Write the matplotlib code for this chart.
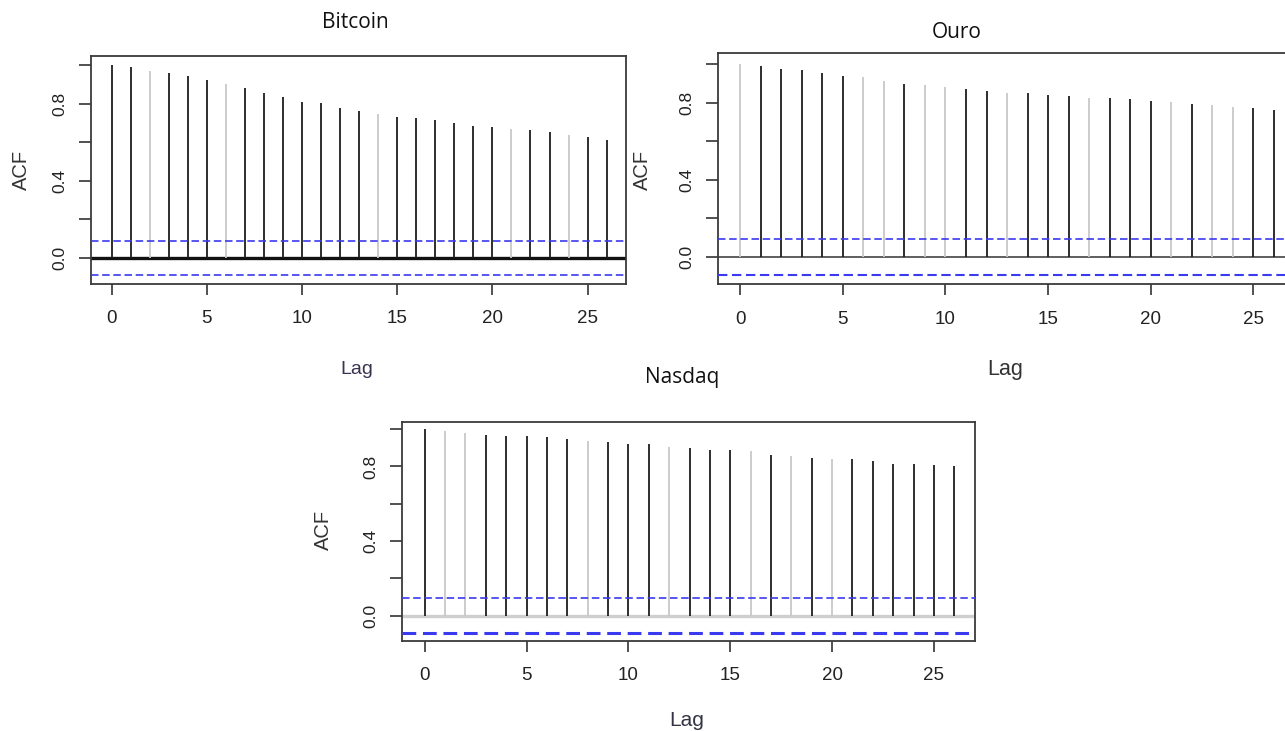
import matplotlib
matplotlib.use("Agg")
import matplotlib.pyplot as plt

lags = list(range(27))
bitcoin_acf = [1.0, 0.99, 0.97, 0.959, 0.944, 0.923, 0.906, 0.881, 0.859, 0.835,
               0.812, 0.803, 0.779, 0.764, 0.746, 0.732, 0.726, 0.715, 0.701, 0.686,
               0.679, 0.670, 0.663, 0.653, 0.637, 0.630, 0.613]
ouro_acf = [1.0, 0.99, 0.975, 0.968, 0.953, 0.937, 0.934, 0.915, 0.897, 0.894,
            0.88, 0.873, 0.859, 0.852, 0.852, 0.842, 0.833, 0.826, 0.825, 0.819,
            0.811, 0.804, 0.793, 0.787, 0.778, 0.771, 0.764]
nasdaq_acf = [1.0, 0.991, 0.977, 0.970, 0.961, 0.961, 0.959, 0.945, 0.938, 0.929,
              0.922, 0.920, 0.904, 0.897, 0.890, 0.886, 0.881, 0.863, 0.856, 0.847,
              0.840, 0.838, 0.831, 0.815, 0.813, 0.806, 0.804]
bitcoin_ci = 0.088
ouro_ci = 0.093
nasdaq_ci = 0.095

titles = ["Bitcoin", "Ouro", "Nasdaq"]
yticks = [0.0, 0.2, 0.4, 0.6, 0.8, 1.0]
ytick_labels = ["0.0", "", "0.4", "", "0.8", ""]
xticks = [0, 5, 10, 15, 20, 25]

# lags that come out washed-out grey in the screenshot
bitcoin_light = [2, 6, 14, 21, 24]
ouro_light = [0, 6, 7, 9, 10, 13, 17, 21, 23, 24]
nasdaq_light = [1, 2, 8, 12, 16, 18, 20]

W, H = 1285, 731
plt.rcParams['font.family'] = ['Liberation Sans', 'DejaVu Sans']
fig = plt.figure(figsize=(W / 100, H / 100), dpi=100)


def rect(left, top, right, bottom):
    return [left / W, 1 - bottom / H, (right - left) / W, (bottom - top) / H]


def acf_panel(box, acf, ci, light, xlim, ylim, zero_color, zero_lw, low_lw):
    ax = fig.add_axes(box)
    colors = ['#c8c8c8' if k in light else '#1e1e1e' for k in lags]
    ax.vlines(lags, 0, acf, colors=colors, lw=1.3, zorder=3)
    ax.axhline(0, color=zero_color, lw=zero_lw, zorder=2)
    ax.axhline(ci, color='#3a3af0', lw=1.2, ls=(0, (4.5, 2.2)), zorder=4)
    ax.axhline(-ci, color='#3a3af0', lw=low_lw, ls=(0, (4.5, 2.2)), zorder=4)
    ax.set_xlim(xlim)
    ax.set_ylim(ylim)
    ax.set_xticks(xticks)
    ax.set_yticks(yticks, ytick_labels)
    ax.tick_params(axis='x', length=8, width=1.2, pad=11, labelsize=13.5,
                   color='#333333', labelcolor='#222222')
    ax.tick_params(axis='y', length=8.5, width=1.2, pad=8, labelsize=12.5,
                   labelrotation=90, color='#333333', labelcolor='#222222')
    for lab in ax.get_yticklabels():
        lab.set_va('center')
    for s in ax.spines.values():
        s.set_color('#3a3a3a')
        s.set_linewidth(1.3)
    return ax


acf_panel(rect(90.6, 56, 625.7, 284), bitcoin_acf, bitcoin_ci, bitcoin_light,
          (-1.1, 27.0), (-0.135, 1.049), '#111111', 2.4, 1.2)
acf_panel(rect(717.7, 53.3, 1295.2, 284.3), ouro_acf, ouro_ci, ouro_light,
          (-1.1, 27.04), (-0.143, 1.057), '#333333', 1.1, 1.5)
acf_panel(rect(401.7, 421.7, 974.7, 640.7), nasdaq_acf, nasdaq_ci, nasdaq_light,
          (-1.13, 27.0), (-0.134, 1.04), '#cfcfcf', 2.4, 2.2)


def put(x, y, s, **kw):
    fig.text(x / W, 1 - y / H, s, ha='center', va='center', **kw)


title_font = ['Open Sans', 'DejaVu Sans']
put(355, 22, titles[0], fontsize=15, family=title_font, color='#111111')
put(957, 32, titles[1], fontsize=15, family=title_font, color='#111111')
put(682, 378, titles[2], fontsize=15, family=title_font, color='#111111')

put(21, 170, "ACF", fontsize=14.5, rotation=90, color='#333333')
put(642, 170, "ACF", fontsize=14.5, rotation=90, color='#333333')
put(323, 530, "ACF", fontsize=14.5, rotation=90, color='#333333')

put(357, 369, "Lag", fontsize=14, color='#3a3350')
put(1005, 369, "Lag", fontsize=15.5, color='#333333')
put(687, 721, "Lag", fontsize=15, color='#333344')

fig.savefig("out.png", dpi=100, facecolor='white')
